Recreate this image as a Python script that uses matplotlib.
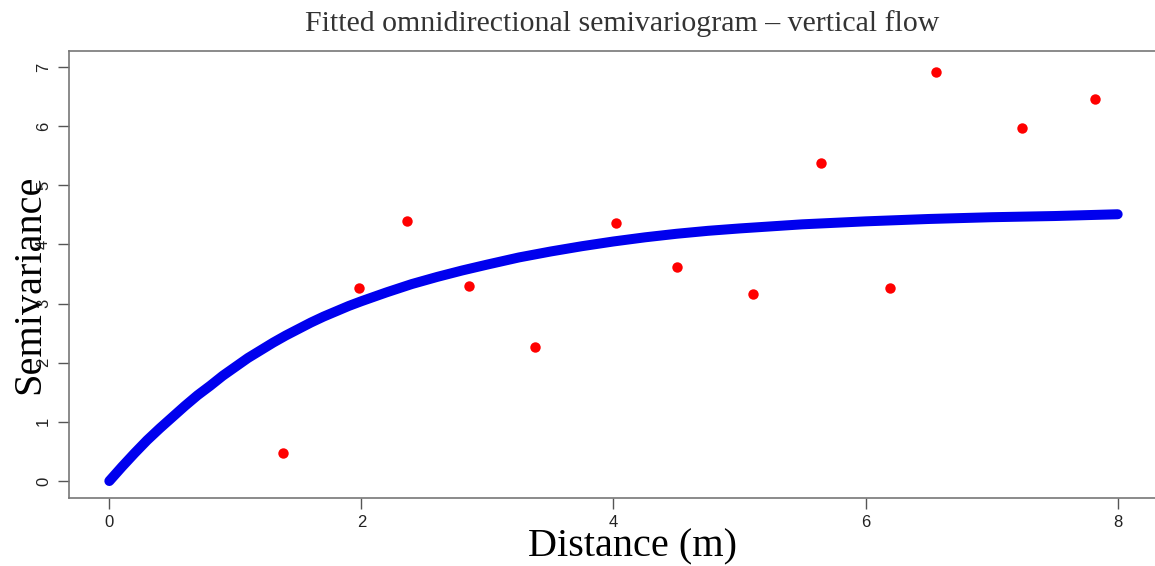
import matplotlib
matplotlib.use("Agg")
import matplotlib.pyplot as plt

# empirical semivariogram points
lag = [1.38, 1.98, 2.36, 2.85, 3.38, 4.02, 4.50, 5.11, 5.65, 6.19, 6.56, 7.24, 7.82]
gamma = [0.48, 3.26, 4.40, 3.29, 2.26, 4.36, 3.61, 3.16, 5.38, 3.26, 6.92, 5.96, 6.46]

# fitted model curve
fit_d = [0.0, 0.1, 0.2, 0.3, 0.4, 0.5, 0.6, 0.7, 0.8, 0.9, 1.0, 1.1, 1.2, 1.3,
         1.4, 1.5, 1.6, 1.7, 1.8, 1.9, 2.0, 2.2, 2.4, 2.6, 2.8, 3.0, 3.25, 3.5,
         3.75, 4.0, 4.25, 4.5, 4.75, 5.0, 5.5, 6.0, 6.5, 7.0, 7.5, 8.0]
fit_g = [0.0, 0.24, 0.47, 0.69, 0.89, 1.08, 1.27, 1.45, 1.61, 1.78, 1.93, 2.08,
         2.21, 2.34, 2.46, 2.57, 2.68, 2.78, 2.87, 2.96, 3.04, 3.19, 3.33, 3.45,
         3.56, 3.66, 3.78, 3.88, 3.97, 4.05, 4.12, 4.18, 4.23, 4.27, 4.34, 4.39,
         4.43, 4.46, 4.48, 4.51]

xticks = [0, 2, 4, 6, 8]
yticks = [0, 1, 2, 3, 4, 5, 6, 7]

fig = plt.figure(figsize=(11.55, 5.66), dpi=100)
ax = fig.add_axes([69 / 1155, 1 - 498 / 566, 1089 / 1155, 447 / 566])

ax.plot(fit_d, fit_g, "-", color="#0000ee", lw=7.2, solid_capstyle="round",
        solid_joinstyle="round", zorder=2)
ax.plot(lag, gamma, "o", color="#ff0000", ms=7.5, mec="none", zorder=3)

ax.set_xlim(-0.32, 8.32)
ax.set_ylim(-0.287, 7.27)
ax.set_xticks(xticks)
ax.set_yticks(yticks)
ax.tick_params(axis="both", direction="out", length=8, width=1, color="#555555",
               labelcolor="#222222", labelsize=12)
ax.tick_params(axis="x", pad=4)
ax.tick_params(axis="y", pad=5)
for lbl in ax.get_yticklabels():
    lbl.set_rotation(90)
    lbl.set_va("center")
for lbl in ax.get_xticklabels() + ax.get_yticklabels():
    lbl.set_family("Liberation Sans")
for s in ax.spines.values():
    s.set_color("#777777")
    s.set_linewidth(1.2)

fig.text(622 / 1155, 1 - 24 / 566, "Fitted omnidirectional semivariogram \u2013 vertical flow",
         ha="center", va="center", family="Liberation Serif", fontsize=21.5, color="#333333")
fig.text(632 / 1155, 1 - 547 / 566, "Distance (m)", ha="center", va="center",
         family="Liberation Serif", fontsize=29, color="black")
fig.text(30 / 1155, 1 - 284 / 566, "Semivariance", ha="center", va="center", rotation=90,
         family="Liberation Serif", fontsize=29, color="black")

fig.savefig("out.png", dpi=100)
